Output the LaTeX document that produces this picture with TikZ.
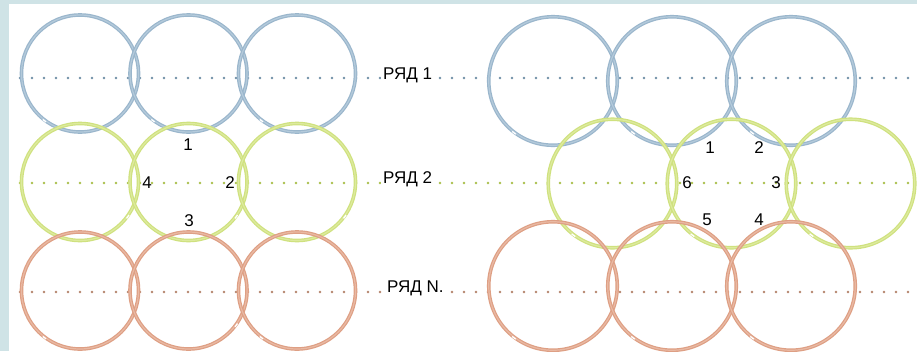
\documentclass[tikz,border=0pt]{standalone}
\usepackage{fontspec}
\setmainfont{Liberation Sans}
\definecolor{bord}{HTML}{CFE3E6}
\definecolor{ringB}{HTML}{9AB6CC}
\definecolor{ringBi}{HTML}{B4CADB}
\definecolor{ringG}{HTML}{CFE17E}
\definecolor{ringGi}{HTML}{DDEA9E}
\definecolor{ringR}{HTML}{DE9F84}
\definecolor{ringRi}{HTML}{E9B9A3}
\definecolor{dotB}{HTML}{6F8FA6}
\definecolor{dotG}{HTML}{A9C04A}
\definecolor{dotR}{HTML}{B5846C}
\begin{document}
\begin{tikzpicture}[x=1pt,y=-1pt,
  ringL/.style={circle, inner sep=0pt, minimum size=117pt, line width=1.2pt, double distance=1.2pt},
  ringS/.style={circle, inner sep=0pt, minimum size=128.5pt, line width=1.2pt, double distance=1.2pt},
  blu/.style={draw=ringB, double=ringBi},
  grn/.style={draw=ringG, double=ringGi},
  red/.style={draw=ringR, double=ringRi},
  dotrow/.style={line width=2.6pt, line cap=round, dash pattern=on 0pt off 12pt},
  rowlabel/.style={fill=white, inner xsep=2pt, inner ysep=1pt, anchor=base west, font=\fontsize{17}{20}\selectfont},
  num/.style={inner sep=0pt, font=\fontsize{17}{20}\selectfont},
  gapmark/.style={draw=white, line width=1.3pt}]
\useasboundingbox (0,0) rectangle (917,351);
\clip (0,0) rectangle (917,351);
\fill[bord] (0,0) rectangle (917,351);
\fill[white] (9,4) rectangle (917,351);
% dotted rows
\coordinate (d1a) at (20,78);  \coordinate (d1b) at (917,78);
\coordinate (d2a) at (20,183); \coordinate (d2b) at (917,183);
\coordinate (d3a) at (20,292); \coordinate (d3b) at (917,292);
\draw[dotrow, dotB] (d1a) -- (d1b);
\draw[dotrow, dotG] (d2a) -- (d2b);
\draw[dotrow, dotR] (d3a) -- (d3b);
% left: square packing
\node[ringL, blu] (lb1) at (80,73.5) {};
\node[ringL, blu] (lb2) at (188.5,73.5) {};
\node[ringL, blu] (lb3) at (297,73.5) {};
\node[ringL, grn] (lg1) at (80,182) {};
\node[ringL, grn] (lg2) at (188.5,182) {};
\node[ringL, grn] (lg3) at (297,182) {};
\node[ringL, red] (lr1) at (80,290.5) {};
\node[ringL, red] (lr2) at (188.5,290.5) {};
\node[ringL, red] (lr3) at (297,290.5) {};
% right: hexagonal packing
\node[ringS, blu] (rb1) at (553,81) {};
\node[ringS, blu] (rb2) at (672,81) {};
\node[ringS, blu] (rb3) at (791,81) {};
\node[ringS, grn] (rg1) at (612.5,183.5) {};
\node[ringS, grn] (rg2) at (731.5,183.5) {};
\node[ringS, grn] (rg3) at (850.5,183.5) {};
\node[ringS, red] (rr1) at (553,286) {};
\node[ringS, red] (rr2) at (672,286) {};
\node[ringS, red] (rr3) at (791,286) {};
% small gaps in the rings
\foreach \n in {lb1,lb2,lb3,lr1,lr3,rb1,rb2,rb3,rg1,rg2,rg3,rr1,rr2,rr3}
  \draw[gapmark] (\n.231) -- (\n.235);
\foreach \n in {lg1,lg2,lg3,lr2}
  \draw[gapmark] (\n.322) -- (\n.326);
% row labels
\node[rowlabel] (t1) at (381,79) {РЯД 1};
\node[rowlabel] (t2) at (381,183) {РЯД 2};
\node[rowlabel] (t3) at (385,292) {РЯД N.};
% neighbour numbers, left
\node[num] (n1) at (188,145) {1};
\node[num] (n2) at (230,183) {2};
\node[num] (n3) at (189,221) {3};
\node[num] (n4) at (147,183) {4};
% neighbour numbers, right
\node[num] (m1) at (710,148) {1};
\node[num] (m2) at (759,148) {2};
\node[num] (m3) at (776,183) {3};
\node[num] (m4) at (759,220) {4};
\node[num] (m5) at (707,220) {5};
\node[num] (m6) at (687,183) {6};
\end{tikzpicture}
\end{document}
